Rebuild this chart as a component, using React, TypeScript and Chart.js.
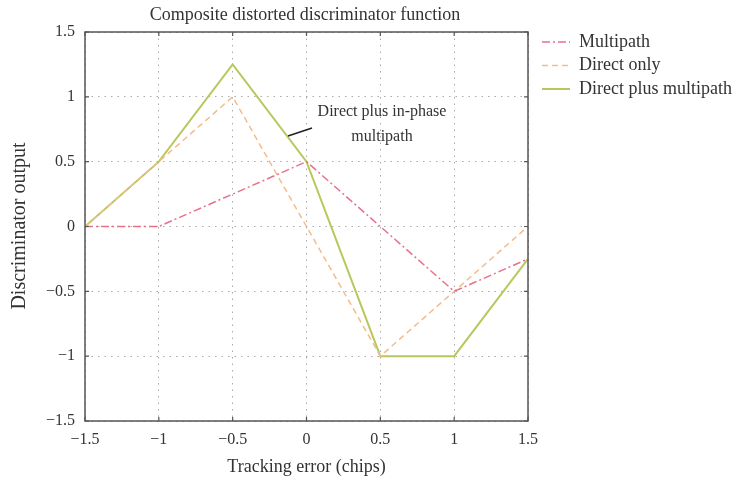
import React, { useEffect, useRef } from "react";
import { Chart, registerables } from "chart.js";

Chart.register(...registerables);

const xValues = [-1.5, -1, -0.5, 0, 0.5, 1, 1.5];
const multipath = [0, 0, 0.25, 0.5, 0, -0.5, -0.25];
const directOnly = [0, 0.5, 1, 0, -1, -0.5, 0];
const directPlusMultipath = [0, 0.5, 1.25, 0.5, -1, -1, -0.25];
const tickValues = [-1.5, -1, -0.5, 0, 0.5, 1, 1.5];
const seriesNames = ["Multipath", "Direct only", "Direct plus multipath"];
const titleText = "Composite distorted discriminator function";
const xTitle = "Tracking error (chips)";
const yTitle = "Discriminator output";
const annotationLines = ["Direct plus in-phase", "multipath"];

const FONT = "'Liberation Serif', 'DejaVu Serif', serif";

const fmt = (v: number) => (v < 0 ? "\u2212" + String(-v) : String(v));

export default function App() {
  const ref = useRef<HTMLCanvasElement | null>(null);
  useEffect(() => {
    const canvas = ref.current!;
    const pts = (ys: number[]) => xValues.map((x, i) => ({ x, y: ys[i] }));

    const decor = {
      id: "decor",
      afterDraw(chart: any) {
        const ctx = chart.ctx;
        const ca = chart.chartArea;
        const xs = chart.scales.x;
        const ys = chart.scales.y;
        ctx.save();
        // frame
        ctx.strokeStyle = "#555";
        ctx.lineWidth = 1.5;
        ctx.setLineDash([]);
        ctx.strokeRect(ca.left, ca.top, ca.right - ca.left, ca.bottom - ca.top);
        // inward ticks
        ctx.lineWidth = 1.2;
        tickValues.forEach((v) => {
          const px = xs.getPixelForValue(v);
          ctx.beginPath();
          ctx.moveTo(px, ca.bottom);
          ctx.lineTo(px, ca.bottom - 4);
          ctx.moveTo(px, ca.top);
          ctx.lineTo(px, ca.top + 4);
          const py = ys.getPixelForValue(v);
          ctx.moveTo(ca.left, py);
          ctx.lineTo(ca.left + 4, py);
          ctx.moveTo(ca.right, py);
          ctx.lineTo(ca.right - 4, py);
          ctx.stroke();
        });
        // titles
        ctx.fillStyle = "#333";
        ctx.textAlign = "center";
        ctx.textBaseline = "middle";
        ctx.font = "18px " + FONT;
        ctx.fillText(titleText, 305, 15);
        ctx.font = "18px " + FONT;
        ctx.fillText(xTitle, (ca.left + ca.right) / 2, 467);
        ctx.save();
        ctx.translate(20, 226);
        ctx.rotate(-Math.PI / 2);
        ctx.font = "20px " + FONT;
        ctx.fillText(yTitle, 0, 0);
        ctx.restore();
        // annotation
        ctx.font = "16px " + FONT;
        ctx.fillText(annotationLines[0], 382, 112);
        ctx.fillText(annotationLines[1], 382, 137);
        ctx.strokeStyle = "#222";
        ctx.lineWidth = 1.5;
        ctx.beginPath();
        ctx.moveTo(288, 136);
        ctx.lineTo(312, 128);
        ctx.stroke();
        // legend
        const ds = chart.data.datasets;
        ctx.textAlign = "left";
        ctx.font = "18px " + FONT;
        ds.forEach((d: any, i: number) => {
          const y = 42 + i * 23.5;
          ctx.strokeStyle = d.borderColor;
          ctx.lineWidth = d.borderWidth;
          ctx.setLineDash(d.borderDash || []);
          ctx.beginPath();
          ctx.moveTo(542, y);
          ctx.lineTo(570, y);
          ctx.stroke();
          ctx.setLineDash([]);
          ctx.fillStyle = "#333";
          ctx.fillText(d.label, 579, y);
        });
        ctx.restore();
      },
    };

    const tickOpts = {
      color: "#333",
      font: { family: FONT, size: 16 },
      callback: (v: any) => fmt(Number(v)),
    };
    const gridOpts = {
      color: "#aaa",
      lineWidth: 1,
      drawTicks: false,
    };

    const chart = new Chart(canvas, {
      type: "line",
      data: {
        datasets: [
          {
            label: seriesNames[0],
            data: pts(multipath),
            borderColor: "#e8708a",
            borderWidth: 1.5,
            borderDash: [8, 3, 2, 3],
            pointRadius: 0,
            fill: false,
          },
          {
            label: seriesNames[1],
            data: pts(directOnly),
            borderColor: "#f5bb8a",
            borderWidth: 1.5,
            borderDash: [6, 4],
            pointRadius: 0,
            fill: false,
          },
          {
            label: seriesNames[2],
            data: pts(directPlusMultipath),
            borderColor: "#b8c85e",
            borderWidth: 2,
            pointRadius: 0,
            fill: false,
          },
        ],
      },
      options: {
        responsive: false,
        animation: false,
        layout: { padding: { left: 0, right: 211, top: 32, bottom: 0 } },
        plugins: { legend: { display: false }, title: { display: false }, tooltip: { enabled: false } },
        scales: {
          x: {
            type: "linear",
            min: -1.5,
            max: 1.5,
            afterBuildTicks: (s: any) => {
              s.ticks = tickValues.map((v) => ({ value: v }));
            },
            afterFit: (s: any) => {
              s.height = 63;
            },
            ticks: { ...tickOpts, padding: 9, maxRotation: 0 },
            grid: { ...gridOpts },
            border: { display: false, dash: [1.5, 5] },
          },
          y: {
            type: "linear",
            min: -1.5,
            max: 1.5,
            afterBuildTicks: (s: any) => {
              s.ticks = tickValues.map((v) => ({ value: v }));
            },
            afterFit: (s: any) => {
              s.width = 85;
            },
            ticks: { ...tickOpts, padding: 10 },
            grid: { ...gridOpts },
            border: { display: false, dash: [1.5, 5] },
          },
        },
      },
      plugins: [decor],
    } as any);
    return () => chart.destroy();
  }, []);
  return (
    <div style={{ position: "fixed", left: 0, top: 0, width: 739, height: 484, background: "#fff" }}>
      <canvas ref={ref} width={739} height={484} style={{ display: "block" }} />
    </div>
  );
}
